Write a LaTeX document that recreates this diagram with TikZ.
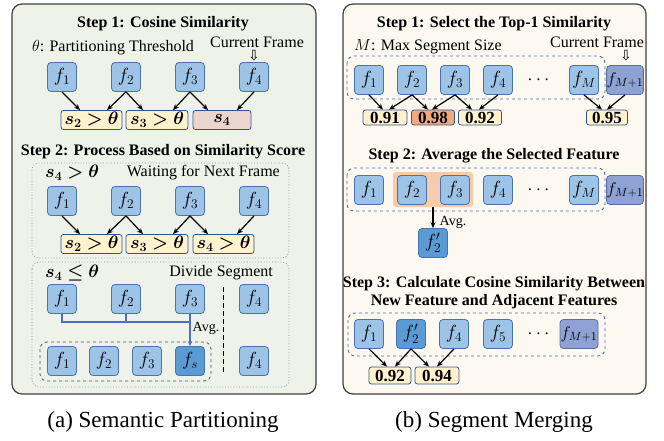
\RequirePackage{fix-cm}
\documentclass[tikz,border=0pt]{standalone}
\usepackage{amsmath,bm}
\usepackage{fontspec}
\setmainfont{Liberation Serif}
\newfontfamily\symfont{DejaVu Sans}
\usetikzlibrary{arrows.meta}
\definecolor{leftbg}{HTML}{EEF2E8}
\definecolor{rightbg}{HTML}{FDF9F0}
\definecolor{fblue}{HTML}{9DC3E6}
\definecolor{fborder}{HTML}{4A72B0}
\definecolor{fdark}{HTML}{5B9BD5}
\definecolor{fpurple}{HTML}{8FA2D4}
\definecolor{pborder}{HTML}{5A6EA8}
\definecolor{syellow}{HTML}{FFF2CC}
\definecolor{sborder}{HTML}{2F5597}
\definecolor{spink}{HTML}{EAD6CC}
\definecolor{sorange}{HTML}{F4A97C}
\definecolor{hlorange}{HTML}{F8CBAD}
\definecolor{dotcol}{HTML}{8497B0}
\definecolor{dashcol}{HTML}{44546A}
\definecolor{bline}{HTML}{4472C4}
\definecolor{panelborder}{HTML}{404040}
\begin{document}
\begin{tikzpicture}[x=1pt,y=-1pt,
  panel/.style={draw=panelborder, line width=1.2pt, rounded corners=10pt},
  fb/.style={draw=fborder, fill=fblue, rounded corners=3.5pt, minimum width=29pt, minimum height=29pt, inner sep=0pt, line width=0.8pt, font=\fontsize{19}{22}\selectfont},
  fd/.style={fb, fill=fdark},
  fp/.style={fb, fill=fpurple, draw=pborder, minimum width=34pt, font=\fontsize{17}{20}\selectfont},
  sb/.style={draw=sborder, fill=syellow, rounded corners=2.5pt, minimum height=19pt, inner sep=0pt, line width=0.8pt, font=\fontsize{18}{20}\selectfont},
  nb/.style={sb, minimum height=15pt, font=\bfseries\fontsize{17}{18}\selectfont},
  arr/.style={-{Stealth[length=6pt,width=5pt]}, line width=1.2pt, black},
  ttl/.style={font=\bfseries\fontsize{16}{19}\selectfont, inner sep=0pt},
  txt/.style={font=\fontsize{16}{19}\selectfont, inner sep=0pt},
  avgtxt/.style={font=\fontsize{14}{16}\selectfont, inner sep=0pt},
  captxt/.style={font=\fontsize{23}{26}\selectfont, inner sep=0pt},
  sym/.style={font=\symfont\fontsize{14}{15}\selectfont, inner sep=0pt},
  dotbox/.style={draw=dotcol, dotted, line width=0.8pt, rounded corners=7pt},
  dashbox/.style={draw=dashcol, dashed, line width=0.8pt, rounded corners=7pt},
  bdash/.style={draw=fborder, dashed, line width=0.9pt, rounded corners=7pt},
  bl/.style={draw=bline, line width=1.1pt},
  dots/.style={font=\fontsize{19}{20}\selectfont, inner sep=0pt}
]
\useasboundingbox (0,0) rectangle (664,441);

% ================= LEFT PANEL =================
\draw[panel, fill=leftbg] (12,4) rectangle (316,394);
\node[ttl] (t1) at (163,24) {Step 1: Cosine Similarity};
\node[txt] (th) at (113,48) {$\theta$: Partitioning Threshold};
\node[txt] (cf1) at (257,42) {Current Frame};
\node[sym] (da1) at (254,56) {⇩};

\node[fb] (a1) at (62,77) {$f_1$};
\node[fb] (a2) at (126,77) {$f_2$};
\node[fb] (a3) at (190,77) {$f_3$};
\node[fb] (a4) at (254,77) {$f_4$};
\node[sb, minimum width=61pt] (as2) at (91.5,120) {$\bm{s_2>\theta}$};
\node[sb, minimum width=62pt] (as3) at (157,120) {$\bm{s_3>\theta}$};
\node[sb, fill=spink, minimum width=58pt] (as4) at (222,120) {$\bm{s_4}$};
\draw[arr] (a1.south) -- ([xshift=-11.5pt]as2.north);
\draw[arr] (a2.south) -- ([xshift=15.5pt]as2.north);
\draw[arr] (a2.south) -- ([xshift=-14pt]as3.north);
\draw[arr] (a3.south) -- ([xshift=16pt]as3.north);
\draw[arr] (a3.south) -- ([xshift=-14pt]as4.north);
\draw[arr] (a4.south) -- ([xshift=15pt]as4.north);

\node[ttl] (t2) at (163,152) {Step 2: Process Based on Similarity Score};
\draw[dotbox] (32,163) rectangle (289,258);
\node[txt, anchor=west, font=\fontsize{18}{20}\selectfont] (c1) at (45,173) {$\bm{s_4>\theta}$};
\node[txt, anchor=east] (w1) at (280,173) {Waiting for Next Frame};
\node[fb] (b1) at (62,201) {$f_1$};
\node[fb] (b2) at (126,201) {$f_2$};
\node[fb] (b3) at (190,201) {$f_3$};
\node[fb] (b4) at (254,201) {$f_4$};
\node[sb, minimum width=61pt] (bs2) at (91.5,244) {$\bm{s_2>\theta}$};
\node[sb, minimum width=62pt] (bs3) at (157,244) {$\bm{s_3>\theta}$};
\node[sb, minimum width=61pt] (bs4) at (223.5,244) {$\bm{s_4>\theta}$};
\draw[arr] (b1.south) -- ([xshift=-11.5pt]bs2.north);
\draw[arr] (b2.south) -- ([xshift=15.5pt]bs2.north);
\draw[arr] (b2.south) -- ([xshift=-14pt]bs3.north);
\draw[arr] (b3.south) -- ([xshift=16pt]bs3.north);
\draw[arr] (b3.south) -- ([xshift=-15.5pt]bs4.north);
\draw[arr] (b4.south) -- ([xshift=13.5pt]bs4.north);

\draw[dotbox] (32,262) rectangle (289,387);
\node[txt, anchor=west, font=\fontsize{18}{20}\selectfont] (c2) at (45,273) {$\bm{s_4\le\theta}$};
\node[txt, anchor=east] (w2) at (273,273) {Divide Segment};
\node[fb] (d1) at (62,299) {$f_1$};
\node[fb] (d2) at (126,299) {$f_2$};
\node[fb] (d3) at (190,299) {$f_3$};
\node[fb] (d4) at (254,299) {$f_4$};
\draw[black, dashed, line width=1pt, dash pattern=on 5pt off 3pt] (223,287) -- (223,373);
\draw[dashbox] (40,342) rectangle (211,381);
\node[fb] (e1) at (62,361) {$f_1$};
\node[fb] (e2) at (104,361) {$f_2$};
\node[fb] (e3) at (147,361) {$f_3$};
\node[fd] (es) at (190,361) {$f_s$};
\node[fb] (e4) at (254,361) {$f_4$};
\coordinate (j) at (190,322);
\draw[bl] (d1.south) |- (j);
\draw[bl] (d2.south) -- (d2.south |- j);
\draw[bl, -{Stealth[length=5pt,width=4.5pt]}] (d3.south) -- (es.north);
\node[avgtxt] (avg1) at (206,328) {Avg.};

\node[captxt] (capa) at (163,422) {(a) Semantic Partitioning};

% ================= RIGHT PANEL =================
\draw[panel, fill=rightbg] (343,4) rectangle (646,394);
\node[ttl] (u1) at (494,24) {Step 1: Select the Top-1 Similarity};
\node[txt, anchor=west] (ms) at (354,47) {$M$: Max Segment Size};
\node[txt] (cf2) at (597,42) {Current Frame};
\node[sym] (da2) at (626,56) {⇩};
\draw[bdash] (347,56) rectangle (605,99);
\node[fb] (r1) at (369,80) {$f_1$};
\node[fb] (r2) at (412,80) {$f_2$};
\node[fb] (r3) at (455,80) {$f_3$};
\node[fb] (r4) at (498,80) {$f_4$};
\node[dots] (rd) at (540,80) {$\cdots$};
\node[fb] (rM) at (584,80) {$f_M$};
\node[fp] (rM1) at (625,80) {$f_{M+1}$};
\node[nb, minimum width=44pt] (n1) at (385,117.5) {0.91};
\node[nb, fill=sorange, minimum width=43pt] (n2) at (433,117.5) {0.98};
\node[nb, minimum width=43pt] (n3) at (480,117.5) {0.92};
\node[nb, minimum width=41pt] (n4) at (607,117.5) {0.95};
\draw[arr] (r1.south) -- ([xshift=-2pt]n1.north);
\draw[arr] (r2.south) -- ([xshift=4pt]n1.north);
\draw[arr] (r2.south) -- ([xshift=-5pt]n2.north);
\draw[arr] (r3.south) -- ([xshift=-1pt]n2.north);
\draw[arr] (r3.south) -- ([xshift=-8pt]n3.north);
\draw[arr] (r4.south) -- ([xshift=-1pt]n3.north);
\draw[arr] (rM.south) -- ([xshift=-5pt]n4.north);
\draw[arr] (rM1.south) -- ([xshift=0pt]n4.north);

\node[ttl] (u2) at (494,156) {Step 2: Average the Selected Feature};
\draw[bdash] (347,168) rectangle (605,211);
\node[fill=hlorange, rounded corners=3pt, minimum width=80pt, minimum height=35pt, inner sep=0pt] (hl) at (433,189.5) {};
\node[fb] (q1) at (369,190) {$f_1$};
\node[fb] (q2) at (412,190) {$f_2$};
\node[fb] (q3) at (455,190) {$f_3$};
\node[fb] (q4) at (498,190) {$f_4$};
\node[dots] (qd) at (540,190) {$\cdots$};
\node[fb] (qM) at (584,190) {$f_M$};
\node[fp] (qM1) at (625,190) {$f_{M+1}$};
\node[fd] (f2p) at (433,243) {$f_2'$};
\draw[arr] (hl.south) -- (f2p.north);
\node[avgtxt] (avg2) at (453,222) {Avg.};

\node[ttl, align=center, font=\bfseries\fontsize{16}{18}\selectfont] (u3) at (494,293) {Step 3: Calculate Cosine Similarity Between\\New Feature and Adjacent Features};
\draw[bdash] (348,313) rectangle (605,356);
\node[fb] (g1) at (369,334) {$f_1$};
\node[fd] (g2) at (411,334) {$f_2'$};
\node[fb] (g4) at (454,334) {$f_4$};
\node[fb] (g5) at (498,334) {$f_5$};
\node[dots] (gd) at (540,334) {$\cdots$};
\node[fp, minimum width=38pt] (gM1) at (579,334) {$f_{M+1}$};
\node[nb, minimum width=42pt, minimum height=17pt] (m1) at (390,375.5) {0.92};
\node[nb, minimum width=44pt, minimum height=17pt] (m2) at (437,375.5) {0.94};
\draw[arr] (g1.south) -- ([xshift=-3pt]m1.north);
\draw[arr] (g2.south) -- ([xshift=5pt]m1.north);
\draw[arr] (g2.south) -- ([xshift=-8pt]m2.north);
\draw[arr] (g4.south) -- ([xshift=0pt]m2.north);

\node[captxt] (capb) at (494,422) {(b) Segment Merging};
\end{tikzpicture}
\end{document}
